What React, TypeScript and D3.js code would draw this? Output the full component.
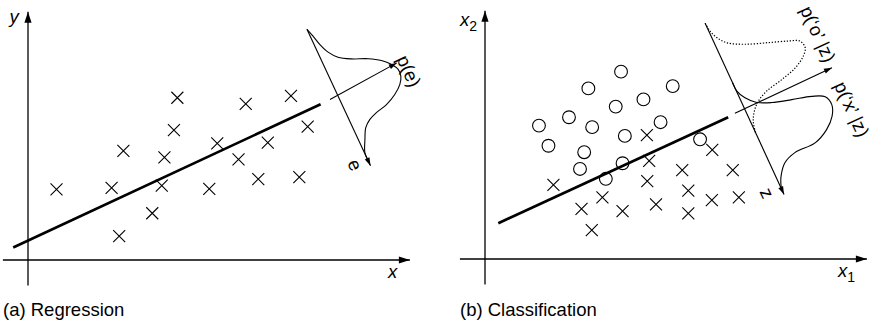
import React, { useEffect, useRef } from "react";
import * as d3 from "d3";

// (a) regression sample
const regX = [7.5, 22.0, 35.2, 32.7, 24.0, 25.1, 35.9, 38.4, 39.3, 47.7, 49.8, 55.4, 57.3, 60.6, 63.1, 69.2, 71.4, 73.6];
const regY = [18.6, 19.0, 19.6, 12.3, 6.3, 28.7, 27.0, 34.2, 42.7, 18.7, 30.7, 26.5, 41.1, 21.3, 30.9, 43.2, 21.8, 35.1];
const regFit = [5.1, 0.466]; // intercept, slope
const regSpan = [-3.9, 77.0];
const regErrAt = 81.6;
// error density p(e), e along the normal, p along the line
const errE = [-19.4, -17.1, -14.3, -11.6, -9.3, -7.4, -5.6, -3.7, -1.6, 0.3, 2.2, 4.1, 5.9, 7.4, 8.2, 9.1, 10.6, 13.3, 16.5, 18.6];
const errP = [0, 0.7, 1.4, 2.5, 4.3, 7.3, 11.3, 14.3, 16.3, 17.3, 17.2, 16.0, 13.7, 10.6, 7.3, 5.0, 3.1, 1.6, 0.1, 0];

// (b) classification sample
const oX = [14.2, 16.7, 22.1, 27.2, 28.2, 26.1, 25.0, 31.8, 35.8, 34.4, 36.8, 36.2, 41.7, 46.2, 49.4, 56.6];
const oY = [35.1, 29.8, 37.3, 44.9, 34.7, 28.1, 23.7, 21.1, 49.3, 40.1, 32.4, 25.2, 42.0, 36.0, 45.5, 31.5];
const xX = [18.0, 25.4, 30.9, 28.1, 36.2, 42.6, 43.2, 42.7, 45.0, 51.9, 53.5, 53.5, 59.8, 59.7, 65.2, 66.8];
const xY = [19.5, 13.2, 16.2, 7.6, 12.6, 32.6, 25.8, 20.5, 14.4, 23.4, 18.0, 12.0, 28.7, 15.5, 23.4, 16.2];
const projFit = [7.8, 0.461];
const projSpan = [3.5, 64.0];
const projAt = 68.4;
const oZ = [-25.0, -22.6, -20.3, -17.9, -15.6, -13.4, -11.6, -10.3, -8.1, -6.3, -4.4, -3.1, -2.0, -0.5, 1.4, 3.7, 6.6];
const oP = [0, 0.3, 1.2, 3.1, 7.2, 13.0, 17.9, 20.7, 21.2, 19.8, 16.6, 12.1, 7.2, 4.1, 2.1, 0.7, 0];
const xZ = [-7.8, -5.3, -2.8, -0.4, 1.3, 2.8, 4.2, 5.8, 8.4, 11.2, 13.8, 15.7, 15.8, 17.1, 19.9, 22.3, 23.2];
const xP = [0, 0.1, 1.3, 3.6, 7.2, 12.3, 17.4, 20.6, 21.3, 20.1, 17.3, 13.1, 7.2, 3.7, 1.3, 0.2, 0];

const FONT = "'Liberation Sans', Arial, Helvetica, sans-serif";

// maps (along-normal, along-line) into pixels
function makeFrame(xS: any, yS: any, fit: number[], x0: number) {
    const m = fit[1];
    const n = Math.hypot(1, m);
    const y0 = fit[0] + m * x0;
    return (t: number, h: number) => [xS(x0 + (t * m + h) / n), yS(y0 + (-t + h * m) / n)];
}

function drawAxes(g: any, xS: any, yS: any) {
    g.append("line")
        .attr("x1", xS(0)).attr("y1", yS(-6.7))
        .attr("x2", xS(0)).attr("y2", yS(65.3))
        .attr("stroke", "#000").attr("stroke-width", 1.3)
        .attr("marker-end", "url(#bigHead)");
    g.append("line")
        .attr("x1", xS(-6.6)).attr("y1", yS(0))
        .attr("x2", xS(100.5)).attr("y2", yS(0))
        .attr("stroke", "#000").attr("stroke-width", 1.3)
        .attr("marker-end", "url(#bigHead)");
}

function drawCrosses(g: any, xs: number[], ys: number[], xS: any, yS: any) {
    const s = 6;
    g.selectAll(null)
        .data(xs.map((x, i) => [x, ys[i]]))
        .enter()
        .append("path")
        .attr("d", (d: number[]) => {
            const cx = xS(d[0]), cy = yS(d[1]);
            return "M" + (cx - s) + "," + (cy - s) + "L" + (cx + s) + "," + (cy + s) +
                "M" + (cx - s) + "," + (cy + s) + "L" + (cx + s) + "," + (cy - s);
        })
        .attr("stroke", "#000")
        .attr("stroke-width", 1.1)
        .attr("fill", "none");
}

function drawFit(g: any, fit: number[], span: number[], xS: any, yS: any) {
    g.append("line")
        .attr("x1", xS(span[0])).attr("y1", yS(fit[0] + fit[1] * span[0]))
        .attr("x2", xS(span[1])).attr("y2", yS(fit[0] + fit[1] * span[1]))
        .attr("stroke", "#000").attr("stroke-width", 2.7);
}

function drawDensity(g: any, fr: any, ts: number[], ps: number[], dashed: boolean) {
    const line = d3.line().curve(d3.curveCatmullRom.alpha(0.5));
    g.append("path")
        .attr("d", line(ts.map((t, i) => fr(t, ps[i]))))
        .attr("fill", "none")
        .attr("stroke", "#000")
        .attr("stroke-width", dashed ? 1.2 : 1.1)
        .attr("stroke-dasharray", dashed ? "1.3,1.7" : null);
}

function drawArrow(g: any, fr: any, a: number[], b: number[]) {
    const p = fr(a[0], a[1]), q = fr(b[0], b[1]);
    g.append("line")
        .attr("x1", p[0]).attr("y1", p[1])
        .attr("x2", q[0]).attr("y2", q[1])
        .attr("stroke", "#000").attr("stroke-width", 1.1)
        .attr("marker-end", "url(#smallHead)");
}

function rotLabel(g: any, fr: any, at: number[], angle: number, txt: string) {
    const p = fr(at[0], at[1]);
    g.append("text")
        .attr("transform", "translate(" + p + ") rotate(" + angle + ")")
        .attr("text-anchor", "middle")
        .attr("dominant-baseline", "central")
        .style("font-family", FONT)
        .style("font-size", "18.5px")
        .text(txt);
}

export default function App() {
    const ref = useRef<SVGSVGElement>(null);

    useEffect(() => {
        const svg = d3.select(ref.current);
        svg.selectAll("*").remove();

        const defs = svg.append("defs");
        defs.append("marker")
            .attr("id", "bigHead")
            .attr("viewBox", "-12 -5 12 10")
            .attr("refX", 0).attr("refY", 0)
            .attr("markerWidth", 12).attr("markerHeight", 10)
            .attr("markerUnits", "userSpaceOnUse")
            .attr("orient", "auto")
            .append("path").attr("d", "M-11,-3.6L0,0L-11,3.6Z").attr("fill", "#000");
        defs.append("marker")
            .attr("id", "smallHead")
            .attr("viewBox", "-10 -4 10 8")
            .attr("refX", 0).attr("refY", 0)
            .attr("markerWidth", 10).attr("markerHeight", 8)
            .attr("markerUnits", "userSpaceOnUse")
            .attr("orient", "auto")
            .append("path").attr("d", "M-8,-2.6L0,0L-8,2.6Z").attr("fill", "#000");

        // ---------- (a) regression
        const xA = d3.scaleLinear().domain([0, 100]).range([28, 408]);
        const yA = d3.scaleLinear().domain([0, 65]).range([260, 13]);
        const ga = svg.append("g");
        drawAxes(ga, xA, yA);
        drawCrosses(ga, regX, regY, xA, yA);
        drawFit(ga, regFit, regSpan, xA, yA);
        const frA = makeFrame(xA, yA, regFit, regErrAt);
        const angA = Math.atan(1 / regFit[1]) * 180 / Math.PI;
        // e axis
        drawArrow(ga, frA, [-19.4, 0], [20.2, 0]);
        drawArrow(ga, frA, [-0.1, -2.3], [-1.4, 17.7]);
        drawDensity(ga, frA, errE, errP, false);
        rotLabel(ga, frA, [1.9, 19.7], angA, "p(e)");
        rotLabel(ga, frA, [18.3, -3.6], angA, "e");

        ga.append("text").attr("x", 9.5).attr("y", 23)
            .style("font-family", FONT).style("font-size", "18.5px").style("font-style", "italic")
            .text("y");
        ga.append("text").attr("x", 388).attr("y", 278)
            .style("font-family", FONT).style("font-size", "18.5px").style("font-style", "italic")
            .text("x");
        ga.append("text").attr("x", 3).attr("y", 316)
            .style("font-family", FONT).style("font-size", "18.5px")
            .text("(a) Regression");

        // ---------- (b) classification
        const xB = d3.scaleLinear().domain([0, 100]).range([485, 865]);
        const yB = d3.scaleLinear().domain([0, 65]).range([259, 12]);
        const gb = svg.append("g");
        drawAxes(gb, xB, yB);
        drawCrosses(gb, xX, xY, xB, yB);
        gb.selectAll(null)
            .data(oX.map((x, i) => [x, oY[i]]))
            .enter()
            .append("circle")
            .attr("cx", (d: number[]) => xB(d[0]))
            .attr("cy", (d: number[]) => yB(d[1]))
            .attr("r", 6.4)
            .attr("fill", "none")
            .attr("stroke", "#000")
            .attr("stroke-width", 1.1);
        drawFit(gb, projFit, projSpan, xB, yB);
        const frB = makeFrame(xB, yB, projFit, projAt);
        const angB = Math.atan(1 / projFit[1]) * 180 / Math.PI;
        drawArrow(gb, frB, [-25.0, 0], [24.6, 0]);
        drawArrow(gb, frB, [-0.2, -2.8], [-0.4, 25.4]);
        drawDensity(gb, frB, oZ, oP, true);
        drawDensity(gb, frB, xZ, xP, false);
        rotLabel(gb, frB, [-10.0, 25.8], angB, "p(\u2018o\u2019 |z)");
        rotLabel(gb, frB, [11.7, 25.6], angB, "p(\u2018x\u2019 |z)");
        rotLabel(gb, frB, [22.4, -3.9], angB, "z");

        const x2 = gb.append("text").attr("x", 460).attr("y", 26)
            .style("font-family", FONT).style("font-size", "18.5px");
        x2.append("tspan").style("font-style", "italic").text("x");
        x2.append("tspan").attr("dy", 5).style("font-size", "14px").text("2");
        const x1 = gb.append("text").attr("x", 838).attr("y", 276.5)
            .style("font-family", FONT).style("font-size", "18.5px");
        x1.append("tspan").style("font-style", "italic").text("x");
        x1.append("tspan").attr("dy", 5).style("font-size", "14px").text("1");
        gb.append("text").attr("x", 460).attr("y", 316)
            .style("font-family", FONT).style("font-size", "18.5px")
            .text("(b) Classification");
    }, []);

    return (
        <svg ref={ref} width={879} height={326}
            style={{ position: "absolute", left: 0, top: 0, background: "#fff" }} />
    );
}
